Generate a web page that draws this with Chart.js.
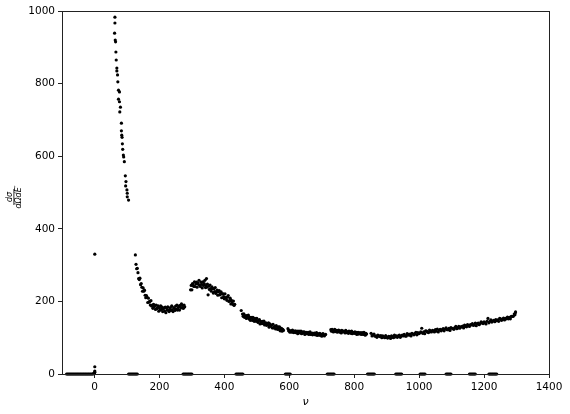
<!DOCTYPE html>
<html>
<head>
<meta charset="utf-8">
<script src="https://cdn.jsdelivr.net/npm/chart.js@4/dist/chart.umd.min.js"></script>
<style>
html,body{margin:0;padding:0;background:#fff;}
#c{display:block;}
</style>
</head>
<body>
<canvas id="c" width="570" height="414"></canvas>
<script>
// axis ticks
const xTicks = [0, 200, 400, 600, 800, 1000, 1200, 1400];
const yTicks = [0, 200, 400, 600, 800, 1000];

// [nu, dsigma] pairs
const zeroPts = [[-86,0],[-83,0],[-80,0],[-77,0],[-74,0],[-71,0],[-68,0],[-65,0],[-62,0],[-59,0],[-56,0],[-53,0],[-50,0],[-47,0],[-44,0],[-41,0],[-38,0],[-35,0],[-32,0],[-29,0],[-26,0],[-23,0],[-20,0],[-17,0],[-14,0],[-11,0],[-8,0],[-5,0],[-3,1],[-1,2],[0,3],[1,5],[1,8],[1,20],[1,330],
[105,0],[108,0],[111,0],[114,0],[117,0],[120,0],[123,0],[126,0],[129,0],[132,0],
[273,0],[276,0],[279,0],[282,0],[285,0],[288,0],[291,0],[294,0],[297,0],[300,0],
[436,0],[439,0],[442,0],[445,0],[448,0],[451,0],[454,0],[457,0],
[588,0],[591,0],[594,0],[597,0],[600,0],[603,0],
[717,0],[720,0],[723,0],[726,0],[729,0],[732,0],[735,0],[738,0],
[841,0],[844,0],[847,0],[850,0],[853,0],[856,0],[859,0],[862,0],
[928,0],[931,0],[934,0],[937,0],[940,0],[943,0],[946,0],
[1003,0],[1006,0],[1009,0],[1012,0],[1015,0],[1018,0],
[1083,0],[1086,0],[1089,0],[1092,0],[1095,0],[1098,0],
[1155,0],[1158,0],[1161,0],[1164,0],[1167,0],[1170,0],[1173,0],
[1215,0],[1218,0],[1221,0],[1224,0],[1227,0],[1230,0],[1233,0],[1236,0],[1239,0]];

const peakPts = [[63,983],[63,967],[62,939],[64,920],[65,915],[66,887],[67,865],[69,843],[69,835],[71,824],[72,805],[74,782],[77,777],[74,757],[77,750],[80,735],[78,722],[83,691],[83,670],[84,658],[85,652],[86,634],[87,619],[89,603],[90,598],[92,585],[95,546],[97,530],[96,518],[100,507],[101,498],[101,488],[105,479]];

const seg2 = [[126,328],[128,302],[130,290],[132,291],[134,279],[136,263],[138,260],[140,264],[142,246],[144,249],[146,239],[148,228],[150,237],[152,228],[154,231],[156,217],[158,210],[160,216],[162,211],[164,197],[166,209],[168,198],[170,200],[172,190],[174,202],[176,187],[178,190],[180,181],[182,192],[184,185],[186,189],[188,178],[190,190],[192,180],[194,182],[196,188],[198,173],[200,183],[202,176],[204,188],[206,178],[208,184],[210,172],[212,180],[214,182],[216,173],[218,184],[220,169],[222,182],[224,177],[226,185],[228,175],[230,172],[232,180],[234,183],[236,175],[238,188],[240,177],[242,172],[244,183],[246,181],[248,175],[250,187],[252,178],[254,190],[256,176],[258,183],[260,187],[262,176],[264,189],[266,183],[268,193],[270,182],[272,189],[274,181],[276,190],[278,185]];

const seg3 = [[296,232],[298,244],[300,232],[302,249],[304,244],[306,241],[308,254],[310,241],[312,248],[314,253],[316,239],[318,251],[320,247],[322,258],[324,244],[326,241],[328,253],[330,247],[332,237],[334,254],[336,244],[338,249],[340,258],[342,238],[344,244],[345,263],[346,239],[348,248],[350,218],[352,242],[354,233],[356,245],[358,235],[360,228],[362,240],[364,235],[366,223],[368,235],[370,227],[372,238],[374,222],[376,227],[378,231],[380,217],[382,226],[384,230],[386,218],[388,220],[390,226],[392,210],[394,221],[396,221],[398,213],[400,207],[402,221],[404,209],[406,211],[408,203],[410,212],[412,216],[414,200],[416,202],[418,209],[420,193],[422,203],[424,199],[426,192],[428,201],[430,189],[432,192]];

const seg4 = [[452,175],[456,165],[458,159],[460,166],[462,156],[464,159],[466,161],[468,153],[470,161],[472,156],[474,162],[476,152],[478,156],[480,148],[482,156],[484,155],[486,148],[488,156],[490,149],[492,145],[494,153],[496,150],[498,145],[500,153],[502,146],[504,142],[506,148],[508,150],[510,138],[512,145],[514,143],[516,139],[518,145],[520,139],[522,146],[524,135],[526,140],[528,141],[530,134],[532,139],[534,135],[536,141],[538,129],[540,138],[542,132],[544,134],[546,135],[548,127],[550,137],[552,127],[554,130],[556,131],[558,124],[560,133],[562,126],[564,123],[566,130],[568,123],[570,130],[572,119],[574,124],[576,126],[578,118],[580,123],[582,120]];

const seg5 = [[596,125],[598,119],[600,120],[602,115],[604,118],[606,119],[608,115],[610,121],[612,116],[614,114],[616,117],[618,119],[620,114],[622,116],[624,118],[626,111],[628,116],[630,118],[632,114],[634,113],[636,118],[638,111],[640,114],[642,116],[644,113],[646,116],[648,109],[650,114],[652,115],[654,111],[656,112],[658,115],[660,109],[662,113],[664,116],[666,109],[668,110],[670,113],[672,108],[674,112],[676,110],[678,113],[680,108],[682,109],[684,114],[686,106],[688,111],[690,109],[692,107],[694,112],[696,107],[698,109],[700,104],[702,110],[704,111],[706,106],[708,105],[710,108],[712,109]];

const seg6 = [[728,122],[730,118],[732,123],[734,118],[736,116],[738,120],[740,123],[742,117],[744,119],[746,120],[748,115],[750,119],[752,121],[754,117],[756,115],[758,119],[760,113],[762,120],[764,117],[766,116],[768,118],[770,117],[772,113],[774,120],[776,114],[778,116],[780,116],[782,112],[784,118],[786,114],[788,117],[790,112],[792,118],[794,111],[796,115],[798,114],[800,112],[802,116],[804,112],[806,115],[808,109],[810,114],[812,115],[814,110],[816,112],[818,114],[820,111],[822,109],[824,114],[826,112],[828,109],[830,115],[832,110],[834,107],[836,112],[838,110]];

const seg7 = [[852,112],[855,105],[858,108],[861,110],[864,104],[867,105],[870,101],[873,107],[876,105],[879,103],[882,106],[885,100],[888,105],[891,102],[894,100],[897,106],[900,101],[903,99],[906,104],[909,103],[912,98],[915,105],[918,102],[921,100],[924,107],[927,102],[930,105],[933,101],[936,105],[939,107],[942,101],[945,105],[948,107],[951,105],[954,109],[957,105],[960,104],[963,111],[966,109],[969,107],[972,110],[975,105],[978,112],[981,110],[984,108],[987,111],[990,115],[993,108],[996,114],[999,111],[1002,113],[1005,116],[1008,126],[1011,112],[1014,116],[1017,111],[1020,119],[1023,118],[1026,115],[1029,114],[1032,121],[1035,117],[1038,116],[1041,120],[1044,119],[1047,116],[1050,122],[1053,118],[1056,124],[1059,116],[1062,121],[1065,123],[1068,119],[1071,122],[1074,125],[1077,119],[1080,124],[1083,127],[1086,122],[1089,122],[1092,126],[1095,120],[1098,128],[1101,126],[1104,125],[1107,123],[1110,128],[1113,131],[1116,125],[1119,127],[1122,131],[1125,126],[1128,130],[1131,130],[1134,132],[1137,127],[1140,135],[1143,131],[1146,130],[1149,136],[1152,134],[1155,131],[1158,136],[1161,135],[1164,139],[1167,134],[1170,135],[1173,140],[1176,133],[1179,139],[1182,140],[1185,136],[1188,139],[1191,144],[1194,141],[1197,139],[1200,144],[1203,141],[1206,138],[1209,145],[1212,153],[1215,141],[1218,145],[1221,149],[1224,143],[1227,146],[1230,148],[1233,144],[1236,150],[1239,147],[1242,149],[1245,145],[1248,153],[1251,152],[1254,148],[1257,151],[1260,154],[1263,149],[1266,153],[1269,152],[1272,157],[1275,152],[1278,156],[1281,152],[1284,159],[1287,159],[1290,159],[1293,165],[1295,163],[1296,168],[1297,171]];

const allSegments = [zeroPts, peakPts, seg2, seg3, seg4, seg5, seg6, seg7];

const toXY = arr => arr.map(p => ({x: p[0], y: p[1]}));

const frame = {
  id: 'frame',
  afterDraw(chart) {
    const {ctx, chartArea: a} = chart;
    ctx.save();
    ctx.strokeStyle = '#222';
    ctx.lineWidth = 1;
    ctx.strokeRect(Math.round(a.left) + 0.5, Math.round(a.top) + 0.5, Math.round(a.right - a.left), Math.round(a.bottom - a.top));
    // y-axis label as a fraction, rotated
    const cx = 14, cy = 197;
    ctx.translate(cx, cy);
    ctx.rotate(-Math.PI / 2);
    ctx.fillStyle = '#000';
    ctx.textAlign = 'center';
    ctx.textBaseline = 'alphabetic';
    ctx.font = 'italic 8px "DejaVu Sans"';
    ctx.fillText('dσ', 0, -2);
    ctx.fillText('dΩdE′', 0, 7);
    ctx.fillRect(-8, -0.5, 16, 0.8);
    ctx.restore();
    // x-axis label
    ctx.save();
    ctx.fillStyle = '#000';
    ctx.font = 'italic 11px "DejaVu Sans"';
    ctx.textAlign = 'center';
    ctx.textBaseline = 'middle';
    ctx.fillText('ν', (a.left + a.right) / 2, 402);
    ctx.restore();
  }
};

const tickFont = {family: 'DejaVu Sans', size: 10.5};

new Chart(document.getElementById('c'), {
  type: 'scatter',
  data: {
    datasets: allSegments.map(s => ({
      data: toXY(s),
      backgroundColor: '#000',
      borderColor: '#000',
      borderWidth: 0,
      pointRadius: 1.6,
      clip: false
    }))
  },
  options: {
    responsive: false,
    animation: false,
    devicePixelRatio: 1,
    layout: {padding: {left: 0, right: 21, top: 11, bottom: 0}},
    plugins: {legend: {display: false}, tooltip: {enabled: false}},
    scales: {
      x: {
        type: 'linear',
        min: -100, max: 1400,
        afterBuildTicks: s => { s.ticks = xTicks.map(v => ({value: v})); },
        afterFit: s => { s.height = 40; },
        grid: {drawOnChartArea: false, drawTicks: true, tickLength: 4, color: '#222'},
        border: {display: true, color: '#222', width: 1},
        ticks: {font: tickFont, color: '#000', padding: 3, maxRotation: 0, callback: v => String(v)}
      },
      y: {
        type: 'linear',
        min: 0, max: 1000,
        afterBuildTicks: s => { s.ticks = yTicks.map(v => ({value: v})); },
        afterFit: s => { s.width = 62; },
        grid: {drawOnChartArea: false, drawTicks: true, tickLength: 4, color: '#222'},
        border: {display: true, color: '#222', width: 1},
        ticks: {font: tickFont, color: '#000', padding: 3, callback: v => String(v)}
      }
    }
  },
  plugins: [frame]
});
</script>
</body>
</html>
